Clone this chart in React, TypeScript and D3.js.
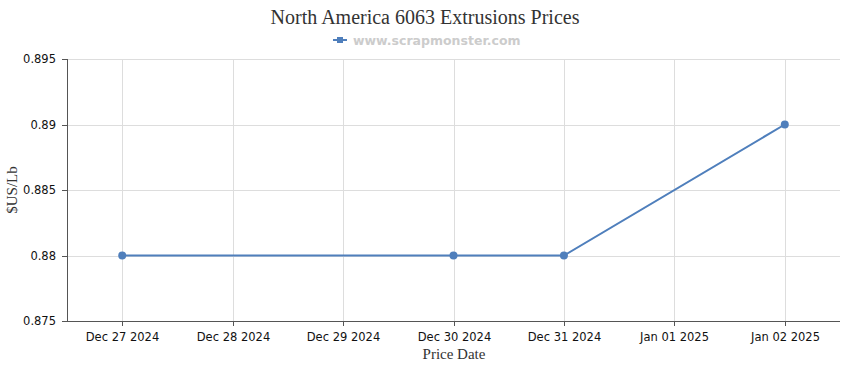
import React from "react";
import * as d3 from "d3";

const dates = ["2024-12-27", "2024-12-30", "2024-12-31", "2025-01-02"];
const prices = [0.88, 0.88, 0.88, 0.89];
const tickDates = ["2024-12-27", "2024-12-28", "2024-12-29", "2024-12-30", "2024-12-31", "2025-01-01", "2025-01-02"];
const yTicks = [0.875, 0.88, 0.885, 0.89, 0.895];
const title = "North America 6063 Extrusions Prices";
const legendLabel = "www.scrapmonster.com";

const W = 850, H = 370;
const M = { left: 67, right: 840, top: 59, bottom: 321 };
const parse = (s: string) => new Date(s + "T00:00:00Z");
const DAY = 86400000;

export default function App() {
  const x = d3.scaleUtc()
    .domain([new Date(parse(tickDates[0]).getTime() - DAY / 2), new Date(parse(tickDates[tickDates.length - 1]).getTime() + DAY / 2)])
    .range([M.left, M.right]);
  const y = d3.scaleLinear().domain([0.875, 0.895]).range([M.bottom, M.top]);
  const fmt = d3.utcFormat("%b %d %Y");
  const pts = dates.map((d, i) => [x(parse(d)), y(prices[i])] as [number, number]);
  const line = d3.line()(pts) || "";
  const color = "#4f7fbc";
  const tickFont = "'DejaVu Sans', Verdana, sans-serif";
  return (
    <svg width={W} height={H} style={{ position: "absolute", left: 0, top: 0, background: "#fff" }}>
      <text x={425} y={24} textAnchor="middle" fontFamily="'Liberation Serif', serif" fontSize={20} fill="#333">{title}</text>
      <g>
        <line x1={333} x2={347} y1={40} y2={40} stroke={color} strokeWidth={2} />
        <rect x={337} y={37} width={6} height={6} fill={color} />
        <text x={353} y={44.5} fontFamily={tickFont} fontWeight="bold" fontSize={12.5} fill="#cccccc">{legendLabel}</text>
      </g>
      {yTicks.map((t) => (
        <g key={t}>
          <line x1={M.left} x2={M.right} y1={Math.round(y(t)) + 0.5} y2={Math.round(y(t)) + 0.5} stroke="#dddddd" />
          <line x1={M.left - 5} x2={M.left} y1={Math.round(y(t)) + 0.5} y2={Math.round(y(t)) + 0.5} stroke="#555" />
          <text x={56} y={y(t) + 4} textAnchor="end" fontFamily={tickFont} fontSize={11.5} fill="#111">{String(t)}</text>
        </g>
      ))}
      {tickDates.map((d) => {
        const xx = Math.round(x(parse(d))) + 0.5;
        return (
          <g key={d}>
            <line x1={xx} x2={xx} y1={M.top} y2={M.bottom} stroke="#dddddd" />
            <line x1={xx} x2={xx} y1={M.bottom} y2={M.bottom + 5} stroke="#555" />
            <text x={xx} y={341} textAnchor="middle" fontFamily={tickFont} fontSize={11.5} fill="#111">{fmt(parse(d))}</text>
          </g>
        );
      })}
      <line x1={M.left + 0.5} x2={M.left + 0.5} y1={M.top} y2={M.bottom} stroke="#555" />
      <line x1={M.left} x2={M.right} y1={M.bottom + 0.5} y2={M.bottom + 0.5} stroke="#555" />
      <text x={454} y={359} textAnchor="middle" fontFamily="'Liberation Serif', serif" fontSize={15} fill="#333">Price Date</text>
      <text transform={`translate(17,190) rotate(-90)`} textAnchor="middle" fontFamily="'Liberation Serif', serif" fontSize={15} fill="#333">$US/Lb</text>
      <path d={line} fill="none" stroke={color} strokeWidth={2} />
      {pts.map((p, i) => (
        <circle key={i} cx={p[0]} cy={p[1]} r={4} fill={color} />
      ))}
    </svg>
  );
}
